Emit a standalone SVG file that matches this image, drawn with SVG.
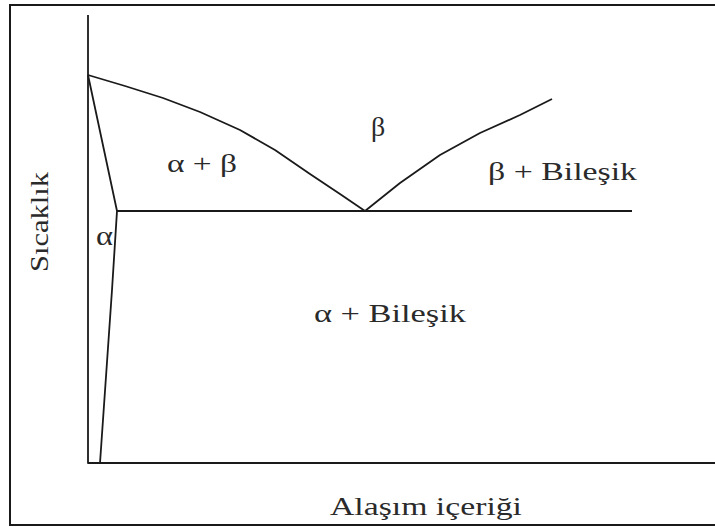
<svg xmlns="http://www.w3.org/2000/svg" width="715" height="528" viewBox="0 0 715 528">
<style>
.ln{fill:none;stroke:#1a1a1a;stroke-width:1.8;stroke-linejoin:round;stroke-linecap:butt}
.t{font-family:"Liberation Serif","DejaVu Serif",serif;font-size:25px;fill:#2a2a2a}
.s{font-size:28px}
</style>
<rect x="0" y="0" width="715" height="528" fill="#fff"/>
<rect x="10" y="5" width="720" height="520" fill="#fff" stroke="#1a1a1a" stroke-width="2"/>
<g id="axes">
<path class="ln" d="M88,15 L88,463 L715,463"/>
</g>
<g id="curves">
<polyline class="ln" points="88,75 125,86 163,98 200,112 240,130 275,150 310,174 340,194 365,211"/>
<polyline class="ln" points="365,211 400,183 440,155 480,133 520,115 552,99"/>
<path class="ln" d="M88,75 L117,211 Q115,240 112,290 L100,463"/>
<path class="ln" d="M117,211 H632"/>
</g>
<g id="labels">
<text class="t" x="167" y="172" textLength="70" lengthAdjust="spacingAndGlyphs">α + β</text>
<text class="t s" x="371" y="136">β</text>
<text class="t" x="488" y="180" textLength="149" lengthAdjust="spacingAndGlyphs">β + Bileşik</text>
<text class="t" x="314" y="322" textLength="152" lengthAdjust="spacingAndGlyphs">α + Bileşik</text>
<text class="t s" x="96" y="245" textLength="17" lengthAdjust="spacingAndGlyphs">α</text>
<text class="t" x="330" y="515" textLength="192" lengthAdjust="spacingAndGlyphs">Alaşım içeriği</text>
<text class="t" transform="translate(48,222) rotate(-90)" text-anchor="middle" textLength="100" lengthAdjust="spacingAndGlyphs">Sıcaklık</text>
</g>
</svg>
